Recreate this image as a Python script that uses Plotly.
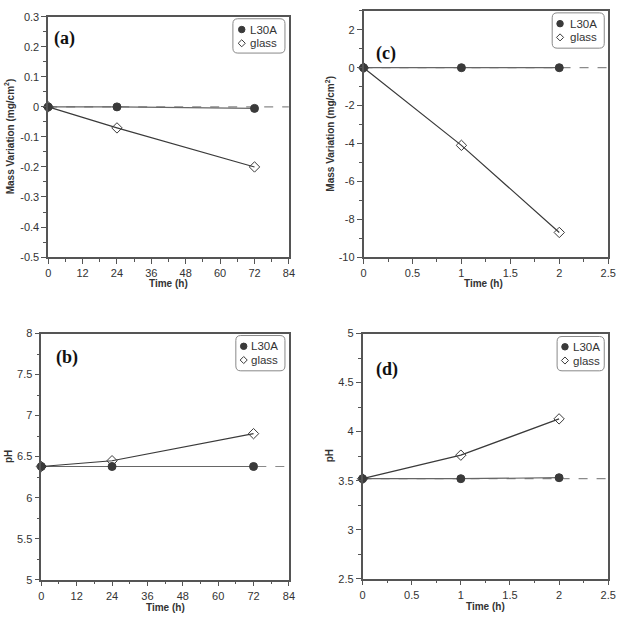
import plotly.graph_objects as go

# ---------------- data ----------------
time_a = [0, 24, 72]
mass_l30a_a = [0.0, 0.0, -0.005]
mass_glass_a = [0.0, -0.07, -0.20]

time_c = [0, 1, 2]
mass_l30a_c = [0.0, 0.0, 0.0]
mass_glass_c = [0.0, -4.1, -8.7]

time_b = [0, 24, 72]
ph_l30a_b = [6.38, 6.38, 6.38]
ph_glass_b = [6.38, 6.45, 6.78]

time_d = [0, 1, 2]
ph_l30a_d = [3.52, 3.52, 3.53]
ph_glass_d = [3.52, 3.76, 4.13]

xticks_h = [0, 12, 24, 36, 48, 60, 72, 84]
xticks_short = [0, 0.5, 1, 1.5, 2, 2.5]
xticklabels_short = ["0", "0.5", "1", "1.5", "2", "2.5"]
yticks_a = [0.3, 0.2, 0.1, 0, -0.1, -0.2, -0.3, -0.4, -0.5]
yticklabels_a = ["0.3", "0.2", "0.1", "0", "-0.1", "-0.2", "-0.3", "-0.4", "-0.5"]
yticks_c = [2, 0, -2, -4, -6, -8, -10]
yticklabels_c = ["2", "0", "-2", "-4", "-6", "-8", "-10"]
yticks_b = [5, 5.5, 6, 6.5, 7, 7.5, 8]
yticklabels_b = ["5", "5.5", "6", "6.5", "7", "7.5", "8"]
yticks_d = [2.5, 3, 3.5, 4, 4.5, 5]
yticklabels_d = ["2.5", "3", "3.5", "4", "4.5", "5"]

panel_labels = ["(a)", "(c)", "(b)", "(d)"]
series_names = ["L30A", "glass"]

# ---------------- style ----------------
W, H = 627, 622
DARK = "#3a3a3a"
AXC = "#555555"
TXT = "#333333"
FONT = "Liberation Sans, Arial, sans-serif"
SERIF = "Liberation Serif, Times New Roman, serif"

def px(x):
    return x / W

def py(y):
    return 1 - y / H

fig = go.Figure()

panels = [
    (time_a, mass_l30a_a, mass_glass_a, "", 0.0, [0, 84]),
    (time_c, mass_l30a_c, mass_glass_c, "2", 0.0, [0, 2.5]),
    (time_b, ph_l30a_b, ph_glass_b, "3", ph_l30a_b[0], [0, 84]),
    (time_d, ph_l30a_d, ph_glass_d, "4", ph_l30a_d[0], [0, 2.5]),
]

for xs, l30, gl, sfx, ref, xr in panels:
    xa = "x" + sfx
    ya = "y" + sfx
    fig.add_trace(go.Scatter(
        x=xr, y=[ref, ref], mode="lines", xaxis=xa, yaxis=ya,
        line=dict(color="#8a8a8a", width=1.2, dash="dash"),
        showlegend=False, hoverinfo="skip"))
    fig.add_trace(go.Scatter(
        x=xs, y=l30, mode="lines+markers", name=series_names[0],
        xaxis=xa, yaxis=ya, showlegend=False, cliponaxis=False,
        line=dict(color="#666666", width=1.2),
        marker=dict(symbol="circle", size=8, color=DARK,
                    line=dict(color=DARK, width=1))))
    fig.add_trace(go.Scatter(
        x=xs, y=gl, mode="lines+markers", name=series_names[1],
        xaxis=xa, yaxis=ya, showlegend=False, cliponaxis=False,
        line=dict(color=DARK, width=1.2),
        marker=dict(symbol="diamond-open", size=8, color=DARK,
                    line=dict(color=DARK, width=1))))

dom = {
    "": ([px(46), px(291)], [py(256), py(11)]),
    "2": ([px(367), px(616)], [py(256), py(5)]),
    "3": ([px(39), px(291)], [py(585), py(334)]),
    "4": ([px(366), px(616)], [py(584), py(334)]),
}

xcfg = {
    "": (xticks_h, [str(v) for v in xticks_h], [0, 84], 6),
    "2": (xticks_short, xticklabels_short, [0, 2.5], 0.25),
    "3": (xticks_h, [str(v) for v in xticks_h], [0, 84], 6),
    "4": (xticks_short, xticklabels_short, [0, 2.5], 0.25),
}
ycfg = {
    "": (yticks_a, yticklabels_a, [-0.5, 0.3], 0.05, -0.5),
    "2": (yticks_c, yticklabels_c, [-10, 3], 1, -10),
    "3": (yticks_b, yticklabels_b, [5, 8], 0.25, 5),
    "4": (yticks_d, yticklabels_d, [2.5, 5], 0.25, 2.5),
}

layout = dict(
    width=W, height=H,
    margin=dict(l=0, r=0, t=0, b=0),
    paper_bgcolor="white", plot_bgcolor="white",
    font=dict(family=FONT, color=TXT, size=11),
    showlegend=False,
)

for sfx in ["", "2", "3", "4"]:
    xd, yd = dom[sfx]
    tv, tt, rng, mdt = xcfg[sfx]
    layout["xaxis" + sfx] = dict(
        domain=xd, anchor="y" + sfx, range=rng,
        tickmode="array", tickvals=tv, ticktext=tt,
        ticks="outside", ticklen=5, tickwidth=1, tickcolor=AXC,
        minor=dict(ticks="outside", ticklen=3, tickwidth=1, tickcolor=AXC,
                   tickmode="linear", tick0=0, dtick=mdt, showgrid=False),
        showline=True, linecolor=AXC, linewidth=1.5, mirror=True,
        showgrid=False, zeroline=False,
        tickfont=dict(size=11, color=TXT, family=FONT),
    )
    tv, tt, rng, mdt, t0 = ycfg[sfx]
    layout["yaxis" + sfx] = dict(
        domain=yd, anchor="x" + sfx, range=rng,
        tickmode="array", tickvals=tv, ticktext=tt,
        ticks="outside", ticklen=5, tickwidth=1, tickcolor=AXC,
        minor=dict(ticks="outside", ticklen=3, tickwidth=1, tickcolor=AXC,
                   tickmode="linear", tick0=t0, dtick=mdt, showgrid=False),
        showline=True, linecolor=AXC, linewidth=1.5, mirror=True,
        showgrid=False, zeroline=False,
        tickfont=dict(size=11, color=TXT, family=FONT),
    )

fig.update_layout(**layout)

annotations = []
shapes = []

# ---- hand-drawn legend boxes (rounded, as in the reference) ----
legend_boxes = [
    # box x0, x1, y0, y1, symbol x, row1 y, row2 y, text x  (pixels)
    (234, 287, 13, 48, 243, 24, 38, 249),
    (559, 612, 7, 43, 567, 18, 32, 575),
    (237, 287, 336, 372, 245, 347, 361, 250),
    (564, 612, 337, 372, 572, 347.5, 361.5, 578),
]

def rounded_rect(x0, x1, y0, y1, r=5):
    return (f"M {px(x0 + r)} {py(y0)} L {px(x1 - r)} {py(y0)} "
            f"Q {px(x1)} {py(y0)} {px(x1)} {py(y0 + r)} "
            f"L {px(x1)} {py(y1 - r)} Q {px(x1)} {py(y1)} {px(x1 - r)} {py(y1)} "
            f"L {px(x0 + r)} {py(y1)} Q {px(x0)} {py(y1)} {px(x0)} {py(y1 - r)} "
            f"L {px(x0)} {py(y0 + r)} Q {px(x0)} {py(y0)} {px(x0 + r)} {py(y0)} Z")

for x0, x1, y0, y1, sx, r1, r2, tx in legend_boxes:
    shapes.append(dict(type="path", xref="paper", yref="paper",
                       path=rounded_rect(x0, x1, y0, y1),
                       line=dict(color="#888888", width=1), fillcolor="white", layer="above"))
    shapes.append(dict(type="circle", xref="paper", yref="paper",
                       x0=px(sx - 3.3), x1=px(sx + 3.3), y0=py(r1 + 3.3), y1=py(r1 - 3.3),
                       line=dict(color=DARK, width=1), fillcolor=DARK, layer="above"))
    d = 3.6
    shapes.append(dict(type="path", xref="paper", yref="paper",
                       path=(f"M {px(sx)} {py(r2 - d)} L {px(sx + d)} {py(r2)} "
                             f"L {px(sx)} {py(r2 + d)} L {px(sx - d)} {py(r2)} Z"),
                       line=dict(color=DARK, width=1), fillcolor="white", layer="above"))
    for name, ry in zip(series_names, [r1, r2]):
        annotations.append(dict(text=name, x=px(tx), y=py(ry), xref="paper", yref="paper",
                                showarrow=False, xanchor="left", yanchor="middle",
                                font=dict(family=FONT, size=11.5, color=TXT)))

for lab, (x, y) in zip(panel_labels, [(63, 33), (390, 48), (65, 358), (391, 371)]):
    annotations.append(dict(text=lab, x=px(x), y=py(y), xref="paper", yref="paper",
                            showarrow=False, xanchor="center", yanchor="middle",
                            font=dict(family=SERIF, size=18, color="#111111", weight="bold")))
ytitles = [("Mass Variation (mg/cm<sup>2</sup>)", 7, 133),
           ("Mass Variation (mg/cm<sup>2</sup>)", 333, 130),
           ("pH", 5, 459), ("pH", 332, 459)]
for t, x, y in ytitles:
    annotations.append(dict(text="<b>" + t + "</b>", x=px(x), y=py(y), xref="paper", yref="paper",
                            showarrow=False, textangle=-90, xanchor="center", yanchor="middle",
                            font=dict(family=FONT, size=10, color=TXT)))
for x, y in [(168, 283), (489, 283), (165, 613), (491, 612)]:
    annotations.append(dict(text="<b>Time (h)</b>", x=px(x), y=py(y), xref="paper", yref="paper",
                            showarrow=False, xanchor="center", yanchor="middle",
                            font=dict(family=FONT, size=10, color=TXT)))
fig.update_layout(annotations=annotations, shapes=shapes)

fig.write_html("out.html")
